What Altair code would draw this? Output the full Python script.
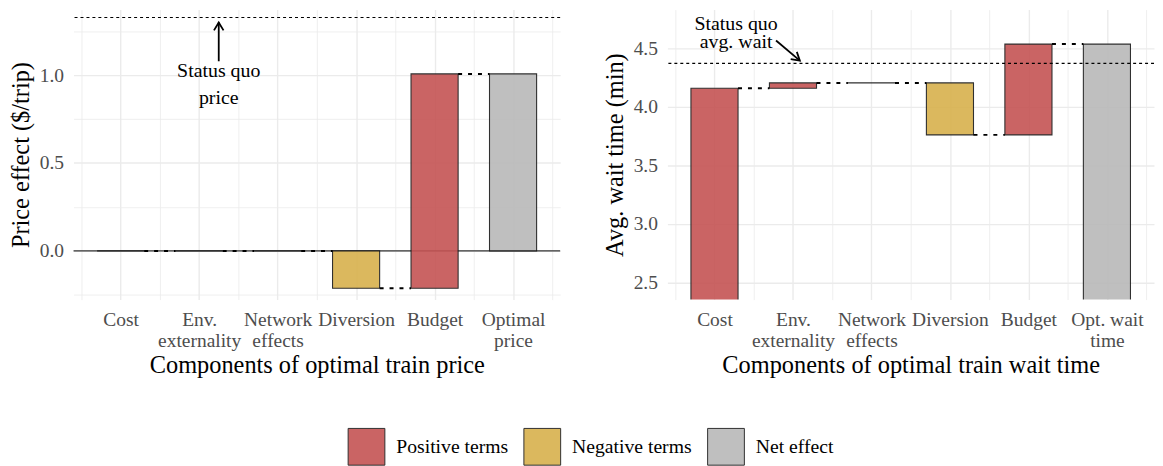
import json
import altair as alt
import pandas as pd

FONT = "Liberation Serif"

# ---------------- data ----------------
price_categories = [["Cost"], ["Env.", "externality"], ["Network", "effects"],
                    ["Diversion"], ["Budget"], ["Optimal", "price"]]
wait_categories = [["Cost"], ["Env.", "externality"], ["Network", "effects"],
                   ["Diversion"], ["Budget"], ["Opt. wait", "time"]]

price_types = ["Positive terms", "Positive terms", "Positive terms",
               "Negative terms", "Positive terms", "Net effect"]
price_start = [0.0, 0.0, 0.0, 0.0, -0.213, 0.0]
price_end = [0.0, 0.0, 0.0, -0.213, 1.007, 1.007]
price_status_quo = 1.328

wait_types = ["Positive terms", "Positive terms", "Positive terms",
              "Negative terms", "Positive terms", "Net effect"]
wait_start = [0.0, 4.158, 4.203, 4.203, 3.76, 0.0]
wait_end = [4.158, 4.203, 4.203, 3.76, 4.534, 4.534]
wait_status_quo = 4.37

legend_labels = ["Positive terms", "Negative terms", "Net effect"]
legend_colors = ["#c55454", "#d8b14d", "#b9b9b9"]

price_ticks = [-0.25, 0.0, 0.25, 0.5, 0.75, 1.0, 1.25]
wait_ticks = [2.5, 2.75, 3.0, 3.25, 3.5, 3.75, 4.0, 4.25, 4.5, 4.75]
x_ticks = [0.5, 1, 1.5, 2, 2.5, 3, 3.5, 4, 4.5, 5, 5.5, 6, 6.5]

price_note = ["Status quo", "price"]
wait_note = ["Status quo", "avg. wait"]

PANEL_W = 490
PANEL_H = 292
GRID = "#ebebeb"


def color_enc():
    return alt.Color(
        "type:N",
        scale=alt.Scale(domain=legend_labels, range=legend_colors),
        legend=alt.Legend(
            title=None, orient="none", direction="horizontal",
            legendX=276, legendY=421,
            symbolType="square", symbolSize=1369,
            symbolStrokeColor="#1a1a1a", symbolStrokeWidth=1,
            symbolOpacity=0.9,
            labelFont=FONT, labelFontSize=19.8, labelColor="black",
            labelOffset=11, columnPadding=13,
        ),
    )


def panel(cats, types, starts, ends, status_quo, ydomain, yticks,
          ytitle, xtitle, note, note_pos, line_h, arrow):
    n = len(starts)
    bars = pd.DataFrame({"pos": list(range(1, n + 1)), "start": starts,
                         "end": ends, "type": types})
    conn = pd.DataFrame({"pos": list(range(1, n)), "level": ends[:-1]})

    label_expr = ("datum.value % 1 == 0 ? " + json.dumps(cats)
                  + "[datum.value - 1] : ''")
    xscale = alt.Scale(domain=[0.4, 6.6], nice=False, zero=False)
    xaxis = alt.Axis(
        values=x_ticks, labelExpr=label_expr, title=xtitle,
        labelFont=FONT, titleFont=FONT,
        grid=True, gridColor=GRID,
        gridWidth={"condition": {"test": "datum.value % 1 == 0", "value": 1.4},
                   "value": 0.8},
        ticks=False, domain=False, labelOverlap=False, labelFlush=False,
        labelPadding=11, labelLineHeight=21.5, titlePadding=3,
    )
    yscale = alt.Scale(domain=ydomain, nice=False, zero=False)
    yaxis = alt.Axis(
        values=yticks,
        labelExpr="(datum.value * 2) % 1 == 0 ? format(datum.value, '.1f') : ''",
        title=ytitle, labelFont=FONT, titleFont=FONT,
        grid=True, gridColor=GRID,
        gridWidth={"condition": {"test": "(datum.value * 2) % 1 == 0", "value": 1.4},
                   "value": 0.8},
        ticks=False, domain=False, labelOverlap=False, labelFlush=False,
        labelPadding=10, titlePadding=6,
    )

    base = alt.Chart(bars).transform_calculate(
        lo="datum.pos - 0.3", hi="datum.pos + 0.3")
    rects = base.mark_rect(stroke="#1a1a1a", strokeWidth=1.1, opacity=0.9,
                           clip=True).encode(
        x=alt.X("lo:Q", scale=xscale, axis=xaxis),
        x2="hi:Q",
        y=alt.Y("start:Q", scale=yscale, axis=yaxis),
        y2="end:Q",
        color=color_enc(),
    )

    connectors = alt.Chart(conn).transform_calculate(
        a="datum.pos + 0.3", b="datum.pos + 0.7").mark_rule(
        color="black", strokeWidth=2, strokeDash=[4, 6]).encode(
        x="a:Q", x2="b:Q", y="level:Q")

    sq = alt.Chart(pd.DataFrame({"v": [status_quo]})).mark_rule(
        color="black", strokeWidth=1.2, strokeDash=[3, 3]).encode(y="v:Q")

    layers = []
    if ydomain[0] < 0 < ydomain[1]:
        zero = alt.Chart(pd.DataFrame({"v": [0.0]})).mark_rule(
            color="#333333", strokeWidth=1.1).encode(y="v:Q")
        layers.append(zero)
    layers += [rects, connectors, sq]

    dummy = pd.DataFrame({"d": [0]})
    layers.append(alt.Chart(dummy).mark_text(
        text=note, font=FONT, fontSize=20, color="black", lineHeight=line_h,
        align="center", baseline="middle").encode(
        x=alt.datum(note_pos[0]), y=alt.datum(note_pos[1])))

    x1, y1, x2, y2, ang = arrow
    layers.append(alt.Chart(dummy).mark_rule(
        color="black", strokeWidth=1.8).encode(
        x=alt.datum(x1), y=alt.datum(y1),
        x2=alt.datum(x2), y2=alt.datum(y2)))
    layers.append(alt.Chart(dummy).mark_point(
        shape="M -0.6 1 L 0 0 L 0.6 1", size=256, filled=False,
        stroke="black", strokeWidth=1.8, opacity=1, angle=ang).encode(
        x=alt.datum(x2), y=alt.datum(y2)))

    return alt.layer(*layers).properties(width=PANEL_W, height=PANEL_H)


left = panel(
    price_categories, price_types, price_start, price_end, price_status_quo,
    [-0.277, 1.373], price_ticks,
    "Price effect ($/trip)", "Components of optimal train price",
    price_note, (2.25, 1.022), 26.5, (2.25, 1.079, 2.25, 1.30, 0),
)
right = panel(
    wait_categories, wait_types, wait_start, wait_end, wait_status_quo,
    [2.356, 4.828], wait_ticks,
    "Avg. wait time (min)", "Components of optimal train wait time",
    wait_note, (1.275, 4.707), 18, (1.784, 4.565, 2.0875, 4.393, 130),
)

chart = alt.hconcat(left, right, spacing=41).resolve_scale(
    x="independent", y="independent", color="shared"
).resolve_legend(color="shared").properties(
    padding={"left": 0, "top": 0, "right": 0, "bottom": 0}
).configure(font=FONT).configure_view(stroke=None).configure_axis(
    labelFont=FONT, titleFont=FONT, labelFontSize=19.6, titleFontSize=24.5,
    labelColor="#4d4d4d", titleColor="black", titleFontWeight="normal",
).configure_legend(labelFont=FONT)

chart.save("out.html", embed_options={"renderer": "svg", "actions": False})
